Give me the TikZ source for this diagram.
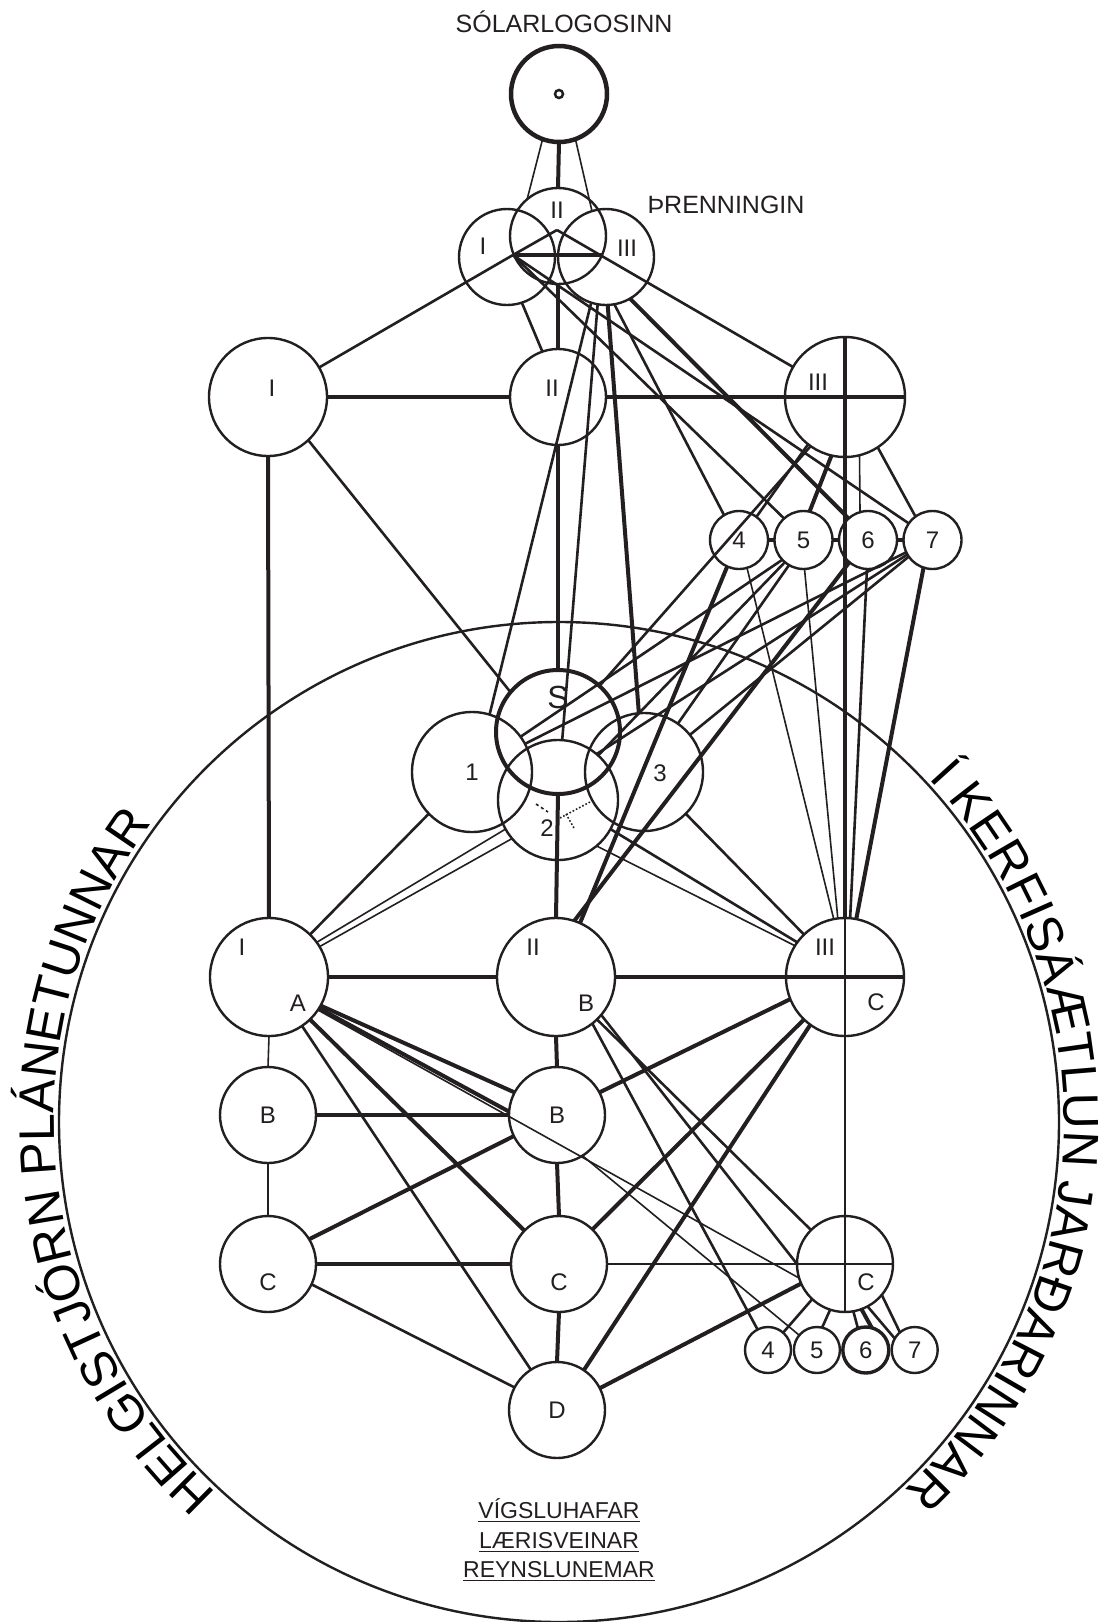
\documentclass[tikz,border=0pt]{standalone}
\usepackage{fontspec}
\setmainfont{Liberation Sans}
\usepackage{tikz}
\usetikzlibrary{positioning,decorations.text}
\definecolor{ink}{RGB}{35,31,32}
\newcommand{\arcfont}{\fontsize{50}{50}\selectfont}

\begin{document}
\begin{tikzpicture}[
x=1pt,y=1pt,
orb/.style={circle,draw=ink,line width=2.4pt,minimum size=#1,inner sep=0pt,outer sep=0pt,
text=ink,font=\fontsize{24}{24}\selectfont},
orb/.default=96pt,
wee/.style={orb=58pt},
minor/.style={orb=46pt},
heavy/.style={draw=ink,line width=4pt},
mid/.style={draw=ink,line width=2.6pt},
fine/.style={draw=ink,line width=1.6pt},
lbl/.style={text=ink,font=\fontsize{24}{24}\selectfont,inner sep=0pt},
title/.style={text=ink,font=\fontsize{25}{25}\selectfont,inner sep=0pt,anchor=base}
]
\useasboundingbox (0,0) rectangle (1112,-1622);
\fill[white] (0,0) rectangle (1112,-1622);

% outer ring and its texts
\draw[ink,line width=2.4pt] (559,-1122) circle[radius=500];
\path[decorate,decoration={text along path,text align=center,
  text={|\arcfont|HELGISTJÓRN PLÁNETUNNAR}}]
  (559,-1122) ++(230.5:505) arc[start angle=230.5,end angle=140.5,radius=505];
\path[decorate,decoration={text along path,text align=center,
  text={|\arcfont|Í KERFISÁÆTLUN JARÐARINNAR}}]
  (559,-1122) ++(46:505) arc[start angle=46,end angle=-50,radius=505];

% solar logos and the trinity
\node[orb,line width=4.5pt] (sol) at (559,-94) {};
\draw[ink,line width=2.5pt] (sol.center) circle[radius=4];
\node[title] (soltxt) at (564,-32) {SÓLARLOGOSINN};
\node[orb] (tI) at (507,-257) {};
\node[orb] (tII) at (558,-236) {};
\node[orb] (tIII) at (606,-257) {};
\node[lbl] (tIlab) at (483,-246) {I};
\node[lbl] (tIIlab) at (557,-210) {II};
\node[lbl] (tIIIlab) at (627,-248) {III};
\node[title] (trtxt) at (726,-213) {ÞRENNINGIN};
\coordinate (vL) at (513,-255);
\coordinate (vR) at (603,-255);
\coordinate (apex) at (557,-230);

% heads of the three rays
\node[orb=118pt] (hI) at (268,-397) {};
\node[orb] (hII) at (558,-397) {};
\node[orb=120pt] (hIII) at (845,-397) {};
\node[lbl] (hIlab) at (272,-388) {I};
\node[lbl] (hIIlab) at (552,-388) {II};
\node[lbl] (hIIIlab) at (818,-382) {III};
\node[wee] (r4) at (739,-540) {4};
\node[wee,right=6.5pt of r4] (r5) {5};
\node[wee,right=6.5pt of r5] (r6) {6};
\node[wee,right=6.5pt of r6] (r7) {7};

% S with 1, 2, 3
\node[orb=124pt,line width=4pt] (S) at (558,-732) {};
\node[orb=120pt] (c1) at (472,-772) {1};
\node[orb=120pt] (c2) at (558,-800) {};
\node[orb=118pt] (c3) at (644,-772) {};
\node[lbl,font=\fontsize{32}{32}\selectfont] (Slab) at (558,-697) {S};
\node[lbl] (c2lab) at (547,-828) {2};
\node[lbl] (c3lab) at (660,-773) {3};

% ashrams
\node[orb=118pt] (bIA) at (269,-977) {};
\node[orb=118pt] (bIIB) at (556,-977) {};
\node[orb=118pt] (bIIIC) at (845,-977) {};
\node[lbl] (bIlab) at (242,-947) {I};
\node[lbl] (bAlab) at (298,-1003) {A};
\node[lbl] (bIIlab) at (533,-947) {II};
\node[lbl] (bBlab) at (586,-1003) {B};
\node[lbl] (bIIIlab) at (825,-947) {III};
\node[lbl] (bClab) at (876,-1002) {C};
\node[orb] (bL) at (268,-1115) {B};
\node[orb] (bM) at (557,-1115) {B};
\node[orb] (cL) at (268,-1264) {};
\node[orb] (cM) at (559,-1264) {};
\node[orb] (cR) at (845,-1264) {};
\node[lbl] (cLlab) at (268,-1282) {C};
\node[lbl] (cMlab) at (559,-1282) {C};
\node[lbl] (cRlab) at (866,-1282) {C};
\node[minor] (l4) at (768,-1350) {4};
\node[minor,right=2.9pt of l4] (l5) {5};
\node[minor,right=2.9pt of l5,line width=3.4pt] (l6) {6};
\node[minor,right=2.9pt of l6] (l7) {7};
\node[orb] (D) at (557,-1410) {D};

\node[title,font=\fontsize{23}{23}\selectfont] (vig) at (559,-1518) {VÍGSLUHAFAR};
\node[title,font=\fontsize{23}{23}\selectfont] (laer) at (559,-1548) {LÆRISVEINAR};
\node[title,font=\fontsize{23}{23}\selectfont] (reyn) at (559,-1577) {REYNSLUNEMAR};
\draw[fine] ([yshift=-3pt]vig.south west) -- ([yshift=-3pt]vig.south east);
\draw[fine] ([yshift=-3pt]laer.south west) -- ([yshift=-3pt]laer.south east);
\draw[fine] ([yshift=-3pt]reyn.south west) -- ([yshift=-3pt]reyn.south east);

% trinity lines
\draw[heavy] (sol.south) -- (tII.north);
\draw[fine] (sol.250) -- (tII.130);
\draw[fine] (sol.290) -- (tIII.107);
\draw[heavy] (vL) -- (vR);
\draw[mid] (vL) -- (apex);
\draw[mid] (apex) -- (hIII.150);
\draw[mid] (vL) -- (hI.30);
\draw[mid] (vL) -- (r5.132);
\draw[mid] (vL) -- (r7.145);
\draw[mid] (tI.-72) -- (hII.109);
\draw[heavy] (tII.south) -- (hII.north);
\draw[heavy] (hII.south) -- (S.north);
\draw[heavy] (S.south) -- (bIIB.north);
\draw[mid] (tIII.-108) -- (c1.73);
\draw[mid] (tIII.-100) -- (c2.86);
\draw[heavy] (tIII.-88) -- (c3.95);
\draw[mid] (tIII.-80) -- (r4.121);
\draw[heavy] (tIII.-60) -- (r6.132);

% heads
\draw[heavy] (hI.east) -- (hII.west);
\draw[heavy] (hII.east) -- (hIII.east);
\draw[heavy] (hIII.north) -- (bIIIC.north);
\draw[fine] (bIIIC.north) -- (cR.south);
\draw[heavy] (hI.south) -- (bIA.north);
\draw[mid] (hI.-47) -- (S.140);
\draw[mid] (hIII.-128) -- (r4.53);
\draw[mid] (hIII.-125) -- (S.48);
\draw[heavy] (hIII.-103) -- (r5.78);
\draw[fine] (hIII.-76) -- (r6.106);
\draw[mid] (hIII.-57) -- (r7.126);
\draw[heavy] (r4) -- (r5);
\draw[heavy] (r5) -- (r6);
\draw[heavy] (r6) -- (r7);

% rays 4-7 downwards
\draw[heavy] (r4.-114) -- (bIIB.66);
\draw[fine] (r4.-74) -- (bIIIC.101);
\draw[mid] (r5.-137) -- (c1.36);
\draw[mid] (r5.-130) -- (c2.48);
\draw[mid] (r5.-120) -- (c3.55);
\draw[fine] (r5.-88) -- (bIIIC.97);
\draw[heavy] (r6.-130) -- (bIIB.72);
\draw[mid] (r6.-92) -- (bIIIC.85);
\draw[mid] (r7.-155) -- (c1.28);
\draw[mid] (r7.-150) -- (c2.50);
\draw[mid] (r7.-145) -- (c3.39);
\draw[heavy] (r7.-108) -- (bIIIC.79);

% 1 2 3 to the ashrams
\draw[mid] (c1.-136) -- (bIA.46);
\draw[fine] (c2.-151) -- (bIA.36);
\draw[fine] (c2.-140) -- (bIA.31);
\draw[fine] (c2.-50) -- (bIIIC.148);
\draw[mid] (c2.-29) -- (bIIIC.144);
\draw[mid] (c3.-45) -- (bIIIC.134);
\draw[fine,dashed] ([shift={(-22,-4)}]c2.center) -- ([shift={(-10,-12)}]c2.center);
\draw[fine,dotted] ([shift={(2,-18)}]c2.center) -- ([shift={(32,-2)}]c2.center);
\draw[fine,dotted] ([shift={(8,-14)}]c2.center) -- ([shift={(16,-28)}]c2.center);

% ashram grid
\draw[heavy] (bIA.east) -- (bIIB.west);
\draw[heavy] (bIIB.east) -- (bIIIC.east);
\draw[fine] (bIA.south) -- (bL.north);
\draw[heavy] (bIA.-29) -- (bM.152);
\draw[heavy] (bIA.-32) -- (bM.176);
\draw[fine] (bIA.-34) -- (cR.-163);
\draw[heavy] (bIA.-46) -- (cM.136);
\draw[mid] (bIA.-56) -- (D.123);
\draw[heavy] (bIIB.south) -- (bM.north);
\draw[mid] (bIIB.-46) -- (cR.135);
\draw[mid] (bIIB.-40) -- (cR.180);
\draw[mid] (bIIB.-52) -- (l4.117);
\draw[fine] (bM.-58) -- (l5.140);
\draw[heavy] (bM.28) -- (bIIIC.-158);
\draw[heavy] (bM.-154) -- (cL.31);
\draw[heavy] (bL.east) -- (bM.west);
\draw[fine] (bL.south) -- (cL.north);
\draw[heavy] (bM.south) -- (cM.north);
\draw[heavy] (cL.east) -- (cM.west);
\draw[fine] (cM.east) -- (cR.east);
\draw[heavy] (cM.46) -- (bIIIC.-134);
\draw[heavy] (cM.south) -- (D.north);
\draw[mid] (cL.-25) -- (D.152);
\draw[heavy] (D.56) -- (bIIIC.-126);
\draw[heavy] (D.27) -- (cR.-156);
\draw[mid] (cR.-133) -- (l4.49);
\draw[mid] (cR.-108) -- (l5.77);
\draw[mid] (cR.-80) -- (l6.110);
\draw[heavy] (cR.-70) -- (l6.75);
\draw[mid] (cR.-40) -- (l7.130);
\draw[mid] (cR.-62) -- (l7.150);
\end{tikzpicture}
\end{document}
